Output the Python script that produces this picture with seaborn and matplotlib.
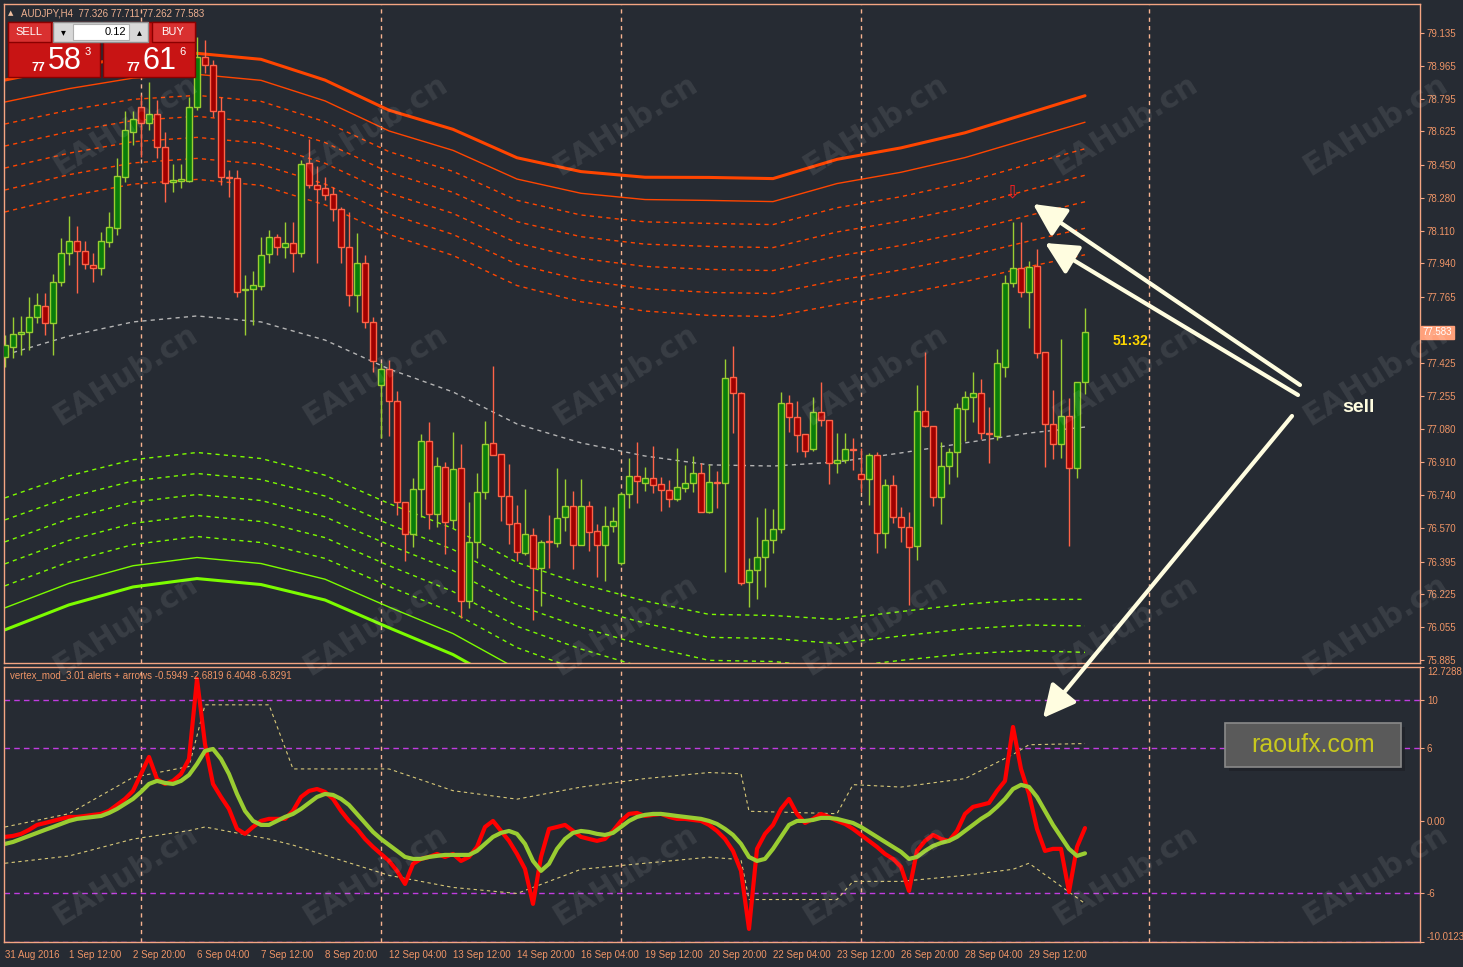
import numpy as np
import pandas as pd
import seaborn as sns
import matplotlib.pyplot as plt
import matplotlib.transforms as mtransforms
from matplotlib.patches import Rectangle, FancyArrowPatch

# AUDJPY H4 candles (31 Aug 2016 -> 30 Sep 2016)
opens = [77.456, 77.508, 77.575, 77.585, 77.663, 77.720, 77.632, 77.844, 77.994, 78.056,
         78.005, 77.932, 77.916, 78.051, 78.124, 78.389, 78.622, 78.751, 78.669, 78.715,
         78.544, 78.363, 78.368, 78.368, 78.751, 79.011, 78.969, 78.731, 78.389, 78.383,
         77.803, 77.808, 77.823, 77.989, 78.077, 78.025, 78.046, 77.994, 78.461, 78.347,
         78.332, 78.300, 78.223, 78.025, 77.777, 77.942, 77.637, 77.310, 77.393, 77.227,
         76.704, 76.538, 76.771, 77.020, 76.642, 76.885, 76.610, 76.880, 76.190, 76.496,
         76.755, 77.010, 76.952, 76.735, 76.595, 76.439, 76.533, 76.362, 76.501, 76.491,
         76.626, 76.683, 76.481, 76.683, 76.553, 76.481, 76.579, 76.387, 76.745, 76.838,
         76.803, 76.828, 76.797, 76.766, 76.719, 76.776, 76.802, 76.854, 76.652, 76.807,
         76.802, 77.352, 77.269, 76.289, 76.351, 76.418, 76.507, 76.564, 77.217, 77.144,
         77.056, 76.979, 77.170, 77.129, 76.906, 76.921, 76.979, 76.849, 76.823, 76.947,
         76.543, 76.792, 76.626, 76.574, 76.476, 77.176, 77.098, 76.729, 76.890, 76.963,
         77.186, 77.248, 77.269, 77.061, 77.046, 77.404, 77.839, 77.916, 77.792, 77.927,
         77.481, 77.108, 77.004, 77.149, 76.880, 77.326]
highs = [77.569, 77.663, 77.668, 77.766, 77.787, 77.787, 77.886, 78.072, 78.186, 78.134,
         78.056, 77.994, 78.103, 78.207, 78.487, 78.731, 78.731, 78.814, 78.881, 78.788,
         78.622, 78.456, 78.456, 78.803, 79.114, 79.099, 78.995, 78.803, 78.425, 78.425,
         77.880, 77.901, 78.077, 78.114, 78.093, 78.155, 78.155, 78.477, 78.585, 78.446,
         78.389, 78.337, 78.233, 78.207, 78.098, 77.984, 77.663, 77.424, 77.440, 77.279,
         76.704, 76.828, 77.056, 77.118, 76.937, 76.911, 77.066, 77.004, 76.704, 76.854,
         77.123, 77.409, 76.952, 76.901, 76.688, 76.771, 76.569, 76.507, 76.636, 76.880,
         76.823, 76.761, 76.823, 76.709, 76.590, 76.683, 76.678, 76.756, 76.932, 77.015,
         76.885, 76.994, 76.833, 76.818, 76.983, 76.895, 76.942, 76.906, 76.901, 76.864,
         77.445, 77.512, 77.274, 76.413, 76.626, 76.673, 76.667, 77.274, 77.258, 77.227,
         77.056, 77.248, 77.326, 77.129, 77.061, 77.061, 77.035, 76.983, 76.958, 76.963,
         76.823, 76.844, 76.678, 76.652, 77.310, 77.481, 77.098, 77.015, 76.983, 77.217,
         77.279, 77.378, 77.341, 77.196, 77.497, 77.880, 78.155, 78.155, 77.953, 78.015,
         77.481, 77.284, 77.548, 77.243, 77.326, 77.711]
lows = [77.404, 77.451, 77.466, 77.492, 77.632, 77.569, 77.466, 77.823, 77.932, 77.787,
        77.911, 77.844, 77.880, 78.025, 78.088, 78.363, 78.554, 78.492, 78.632, 78.487,
        78.259, 78.311, 78.332, 78.363, 78.736, 78.928, 78.700, 78.347, 78.285, 77.766,
        77.569, 77.621, 77.803, 77.942, 77.984, 77.968, 77.896, 77.973, 78.332, 77.942,
        78.269, 78.160, 77.942, 77.720, 77.689, 77.606, 77.378, 77.036, 77.046, 76.636,
        76.398, 76.470, 76.626, 76.564, 76.574, 76.434, 76.569, 76.102, 76.154, 76.413,
        76.719, 76.947, 76.605, 76.486, 76.398, 76.429, 76.092, 76.165, 76.362, 76.470,
        76.553, 76.357, 76.481, 76.450, 76.315, 76.294, 76.548, 76.377, 76.673, 76.698,
        76.761, 76.750, 76.657, 76.678, 76.709, 76.756, 76.756, 76.652, 76.647, 76.673,
        76.341, 77.061, 76.274, 76.159, 76.201, 76.263, 76.439, 76.543, 77.067, 76.963,
        76.937, 76.968, 77.097, 76.797, 76.854, 76.906, 76.870, 76.756, 76.688, 76.440,
        76.465, 76.595, 76.496, 76.170, 76.403, 77.093, 76.683, 76.590, 76.797, 76.833,
        77.020, 77.118, 77.030, 76.906, 77.025, 77.352, 77.818, 77.766, 77.606, 77.451,
        76.885, 76.926, 76.932, 76.476, 76.828, 77.262]
closes = [77.518, 77.575, 77.585, 77.663, 77.725, 77.632, 77.844, 77.994, 78.056, 78.005,
          77.937, 77.916, 78.056, 78.129, 78.394, 78.632, 78.689, 78.669, 78.715, 78.544,
          78.357, 78.373, 78.378, 78.751, 79.011, 78.969, 78.731, 78.389, 78.383, 77.792,
          77.808, 77.829, 77.984, 78.077, 78.025, 78.046, 77.994, 78.456, 78.347, 78.326,
          78.295, 78.223, 78.025, 77.777, 77.942, 77.637, 77.435, 77.393, 77.227, 76.704,
          76.538, 76.771, 77.020, 76.642, 76.890, 76.600, 76.875, 76.190, 76.496, 76.755,
          77.004, 76.947, 76.735, 76.590, 76.444, 76.538, 76.362, 76.496, 76.496, 76.621,
          76.683, 76.481, 76.683, 76.548, 76.481, 76.579, 76.605, 76.745, 76.838, 76.813,
          76.828, 76.792, 76.766, 76.719, 76.782, 76.802, 76.854, 76.652, 76.807, 76.802,
          77.347, 77.269, 76.284, 76.351, 76.418, 76.507, 76.564, 77.217, 77.144, 77.051,
          76.968, 77.170, 77.129, 76.906, 76.921, 76.979, 76.974, 76.823, 76.947, 76.543,
          76.792, 76.626, 76.574, 76.470, 77.176, 77.098, 76.729, 76.890, 76.963, 77.191,
          77.248, 77.269, 77.061, 77.056, 77.424, 77.839, 77.916, 77.792, 77.922, 77.476,
          77.108, 77.004, 77.149, 76.880, 77.326, 77.583]

# envelope: centre line and band step, read every 8 bars
env_bars = [0, 8, 16, 24, 32, 40, 48, 56, 64, 72, 80, 88, 96, 104, 112, 120, 128, 135]
env_mid = [77.466, 77.564, 77.637, 77.668, 77.637, 77.543, 77.393, 77.274, 77.108,
           77.010, 76.942, 76.896, 76.890, 76.911, 76.958, 77.010, 77.061, 77.092]
env_step = [0.1140, 0.1115, 0.1099, 0.1089, 0.1089, 0.1078, 0.1073, 0.1089, 0.1104,
            0.1125, 0.1156, 0.1192, 0.1192, 0.1255, 0.1265, 0.1286, 0.1327, 0.1374]
env_mult = [6.5, 7.5, 8.5, 9.5, 10.5, 11.5, 12.5]

# vertex_mod indicator
vertex = [-1.32, -1.24, -1.07, -0.74, -0.33, -0.17, 0.0, 0.17, 0.33, 0.33,
          0.41, 0.50, 0.58, 0.83, 1.32, 1.82, 2.48, 3.88, 5.29, 3.47,
          3.06, 3.31, 3.88, 5.12, 11.74, 6.36, 3.06, 1.98, 0.99, -0.66,
          -1.07, -0.50, 0.0, 0.17, 0.17, 0.17, 0.83, 1.98, 2.48, 2.64,
          2.40, 1.82, 0.83, 0.0, -0.66, -1.49, -2.15, -2.73, -3.31, -4.13,
          -5.21, -3.55, -3.14, -2.98, -2.73, -2.98, -2.73, -3.31, -2.98, -2.15,
          -0.50, 0.0, -0.83, -1.65, -2.73, -3.97, -6.86, -2.98, -0.66, -0.50,
          -0.33, -0.83, -1.32, -1.49, -1.65, -1.49, -0.83, 0.0, 0.58, 0.66,
          0.41, 0.50, 0.58, 0.33, 0.17, 0.17, 0.08, 0.0, -0.33, -0.83,
          -1.49, -2.48, -4.13, -8.93, -2.31, -1.07, -0.33, 0.99, 1.82, 0.58,
          -0.17, 0.17, 0.58, 0.33, 0.0, -0.25, -0.66, -1.16, -1.65, -2.15,
          -2.73, -3.14, -3.80, -5.79, -2.48, -1.65, -1.16, -1.49, -1.65, -0.83,
          0.58, 1.16, 1.32, 1.49, 2.48, 3.31, 7.77, 4.30, 2.23, -0.66,
          -2.48, -2.31, -2.31, -5.87, -2.15, -0.59]
signal = [-1.90, -1.74, -1.49, -1.24, -0.99, -0.74, -0.50, -0.25, 0.0, 0.17,
          0.25, 0.33, 0.41, 0.66, 0.99, 1.40, 1.82, 2.40, 3.06, 3.31,
          3.14, 3.06, 3.31, 3.80, 4.71, 5.79, 5.95, 5.12, 3.88, 2.23,
          0.83, 0.0, -0.33, -0.33, 0.0, 0.33, 0.58, 0.99, 1.49, 1.98,
          2.23, 2.15, 1.82, 1.32, 0.58, -0.17, -0.91, -1.49, -1.98, -2.48,
          -2.98, -3.14, -3.14, -2.98, -2.89, -2.81, -2.81, -2.81, -2.81, -2.48,
          -1.90, -1.32, -0.99, -0.83, -1.07, -1.90, -3.31, -4.13, -3.55, -2.31,
          -1.49, -0.99, -0.83, -0.91, -1.07, -1.16, -0.99, -0.50, 0.0, 0.33,
          0.50, 0.58, 0.58, 0.50, 0.41, 0.33, 0.25, 0.17, 0.0, -0.25,
          -0.66, -1.16, -1.90, -2.98, -3.31, -3.14, -2.31, -1.32, -0.33, 0.0,
          0.0, 0.08, 0.25, 0.25, 0.17, 0.0, -0.17, -0.50, -0.91, -1.32,
          -1.74, -2.15, -2.56, -3.14, -2.98, -2.48, -2.07, -1.82, -1.65, -1.32,
          -0.83, -0.33, 0.17, 0.58, 1.16, 1.82, 2.64, 2.98, 2.81, 1.98,
          0.83, -0.33, -1.32, -2.31, -2.89, -2.68]
vb_bars = [0, 8, 16, 23, 25, 33, 36, 48, 56, 64, 72, 80, 88, 92, 93, 104, 106, 112, 120, 126, 128, 135]
vb_upper = [-0.5, 0.6, 3.6, 4.5, 9.6, 9.6, 4.3, 4.3, 2.5, 1.8, 2.8, 3.5, 4.0, 3.9, 0.8,
            0.6, 3.0, 2.8, 3.5, 5.5, 6.3, 6.40]
vb_lower = [-3.5, -2.9, -1.5, -0.8, -0.5, -1.5, -2.0, -4.5, -5.5, -6.0, -4.0, -3.5, -3.0,
            -3.2, -6.5, -6.5, -5.0, -5.0, -4.5, -4.0, -3.5, -6.83]
vb_levels = [10, 6, -6, -10]

x_labels = ["31 Aug 2016", "1 Sep 12:00", "2 Sep 20:00", "6 Sep 04:00", "7 Sep 12:00",
            "8 Sep 20:00", "12 Sep 04:00", "13 Sep 12:00", "14 Sep 20:00", "16 Sep 04:00",
            "19 Sep 12:00", "20 Sep 20:00", "22 Sep 04:00", "23 Sep 12:00", "26 Sep 20:00",
            "28 Sep 04:00", "29 Sep 12:00"]
price_ticks = [79.135, 78.965, 78.795, 78.625, 78.450, 78.280, 78.110, 77.940, 77.765,
               77.425, 77.255, 77.080, 76.910, 76.740, 76.570, 76.395, 76.225, 76.055, 75.885]
separators = [17, 47, 77, 107, 143]

BG = "#262b33"
FRAME = "#f4a582"
TXT = "#ee9466"
BULL_FILL, BULL_EDGE = "#0a7d0a", "#9acd32"
BEAR_FILL, BEAR_EDGE = "#a00000", "#ff6347"

sns.set_style("dark", {"axes.facecolor": BG, "figure.facecolor": BG})
plt.rcParams['font.family'] = ['Liberation Sans', 'DejaVu Sans']

W, H = 1463, 967
fig = plt.figure(figsize=(W / 100, H / 100), dpi=100)
fig.patch.set_facecolor(BG)
ax = fig.add_axes([4 / W, 1 - 663 / H, 1416 / W, 659 / H])
ax2 = fig.add_axes([4 / W, 1 - 942 / H, 1416 / W, 275 / H])

df = pd.DataFrame({"o": opens, "h": highs, "l": lows, "c": closes})
df["bar"] = np.arange(len(df))
up = df[df.c >= df.o]
dn = df[df.c < df.o]

# envelope bands
env = pd.DataFrame({"bar": env_bars, "mid": env_mid, "step": env_step})
sns.lineplot(data=env, x="bar", y="mid", ax=ax, color="#b4b4b4", lw=1,
             linestyle=(0, (3, 3)), zorder=1)
for k, m in enumerate(env_mult):
    hi = env.mid + m * env.step
    lo = env.mid - m * env.step
    if k < 5:
        ls, lw = (0, (3, 3)), 1
    elif k == 5:
        ls, lw = "-", 1
    else:
        ls, lw = "-", 2.2
    sns.lineplot(x=env.bar, y=hi, ax=ax, color="#ff4500", lw=lw, linestyle=ls, zorder=1)
    sns.lineplot(x=env.bar, y=lo, ax=ax, color="#7cfc00", lw=lw, linestyle=ls, zorder=1)

# candles
ax.vlines(up.bar, up.l, up.h, color=BULL_EDGE, lw=1, zorder=2)
ax.vlines(dn.bar, dn.l, dn.h, color=BEAR_EDGE, lw=1, zorder=2)
ax.bar(up.bar, (up.c - up.o).clip(lower=0.003), bottom=up.o, width=0.7,
       color=BULL_FILL, edgecolor=BULL_EDGE, lw=1, zorder=3)
ax.bar(dn.bar, (dn.o - dn.c).clip(lower=0.003), bottom=dn.c, width=0.7,
       color=BEAR_FILL, edgecolor=BEAR_EDGE, lw=1, zorder=3)

# lower panel indicator
ind = pd.DataFrame({"bar": np.arange(len(vertex)), "vertex": vertex, "signal": signal})
vb = pd.DataFrame({"bar": vb_bars, "up": vb_upper, "lo": vb_lower})
for lv in vb_levels:
    ax2.axhline(lv, color="#c03ce0", lw=1, linestyle=(0, (4, 3)), zorder=1)
sns.lineplot(data=vb, x="bar", y="up", ax=ax2, color="#d8c878", lw=0.8, linestyle=(0, (3, 3)))
sns.lineplot(data=vb, x="bar", y="lo", ax=ax2, color="#d8c878", lw=0.8, linestyle=(0, (3, 3)))
sns.lineplot(data=ind, x="bar", y="vertex", ax=ax2, color="#ff0000", lw=3)
sns.lineplot(data=ind, x="bar", y="signal", ax=ax2, color="#9acd32", lw=3)

for a in (ax, ax2):
    a.set_facecolor(BG)
    a.set_xlim(-0.125, 176.875)
    for s in a.spines.values():
        s.set_color(FRAME)
        s.set_linewidth(1)
    for sep in separators:
        a.axvline(sep, color="#f8b490", lw=1, linestyle=(0, (3, 3)), zorder=0.5)
    a.set_xlabel("")
    a.set_ylabel("")
    a.yaxis.tick_right()
    a.tick_params(axis="y", direction="out", length=3, color=FRAME, labelcolor=TXT,
                  labelsize=7, pad=2)
    a.grid(False)

ax.set_ylim(75.869, 79.285)
ax.set_yticks(price_ticks)
ax.set_yticklabels([f"{t:.3f}" for t in price_ticks])
ax.set_xticks([])

ax2.set_ylim(-10.0123, 12.7288)
ax2.set_yticks([12.7288, 10, 6, 0, -6, -10.0123])
ax2.set_yticklabels(["12.7288", "10", "6", "0.00", "-6", "-10.0123"])
ylabs = ax2.get_yticklabels()
ylabs[0].set_va("top")
ylabs[-1].set_va("bottom")
ax2.set_xticks(np.arange(0, 129, 8))
ax2.set_xticklabels(x_labels, ha="left")
ax2.tick_params(axis="x", direction="out", length=4, color=FRAME, labelcolor=TXT,
                labelsize=7, pad=2)

# current price tag, timer, signal arrow
trans = mtransforms.blended_transform_factory(ax.transAxes, ax.transData)
ax.text(1.002, closes[-1], f"{closes[-1]:.3f}", transform=trans, va="center", ha="left",
        fontsize=7, color="white",
        bbox=dict(boxstyle="square,pad=0.15", fc="#ffa07a", ec="#ffa07a"))
ax.text(140.7, 77.538, "51:32", color="#ffd700", fontsize=10, fontweight="bold",
        ha="center", va="center")
ax.text(125.9, 78.31, "\u21e9", color="#ff2020", fontsize=13, ha="center", va="center",
        family=["DejaVu Sans"])


def fx(px):
    return px / W


def fy(py):
    return 1 - py / H


def frect(x0, y0, x1, y1, z=20, **kw):
    fig.add_artist(Rectangle((fx(x0), fy(y1)), (x1 - x0) / W, (y1 - y0) / H,
                             transform=fig.transFigure, zorder=z, **kw))


# watermarks
for wx in range(125, 1463, 250):
    for wy in range(125, 967, 250):
        fig.text(fx(wx), fy(wy), "EAHub.cn", rotation=32, fontsize=22, fontweight="bold",
                 color="white", alpha=0.09, ha="center", va="center",
                 family=["DejaVu Sans"], zorder=5)

# header texts
fig.text(fx(8), fy(13), "\u25b2", fontsize=5, color="#f0c0a0", va="center", family=["DejaVu Sans"])
fig.text(fx(21), fy(13), "AUDJPY,H4  77.326 77.711 77.262 77.583", fontsize=7, color="#eeb090",
         va="center")
fig.text(fx(10), fy(675), "vertex_mod_3.01 alerts + arrows -0.5949 -2.6819 6.4048 -6.8291",
         fontsize=7, color="#ee9466", va="center")

# one-click trading panel
frect(8, 22, 100, 77, fc="#c81414", ec="#8a0000", lw=1)
frect(103, 22, 195, 77, fc="#c81414", ec="#8a0000", lw=1)
frect(8, 22, 51, 42, fc="#d93030", ec="#8a0000", lw=1)
frect(152, 22, 195, 42, fc="#d93030", ec="#8a0000", lw=1)
frect(53, 22, 148, 42, fc="#d8d8d8", ec="#909090", lw=1)
frect(73, 24, 129, 40, fc="white", ec="#b0b0b0", lw=0.8)
fig.text(fx(29), fy(32), "SELL", fontsize=8, color="white", ha="center", va="center", zorder=21)
fig.text(fx(173), fy(32), "BUY", fontsize=8, color="white", ha="center", va="center", zorder=21)
fig.text(fx(126), fy(32), "0.12", fontsize=8, color="black", ha="right", va="center", zorder=21)
fig.text(fx(63), fy(32), "\u25be", fontsize=7, color="black", ha="center", va="center",
         family=["DejaVu Sans"], zorder=21)
fig.text(fx(139), fy(32), "\u25b4", fontsize=7, color="black", ha="center", va="center",
         family=["DejaVu Sans"], zorder=21)
for bx, big, sup in ((8, "58", "3"), (103, "61", "6")):
    fig.text(fx(bx + 30), fy(68), "77", fontsize=9, color="white", ha="center", va="center",
             fontweight="bold", zorder=21)
    fig.text(fx(bx + 57), fy(61), big, fontsize=22, color="white", ha="center", va="center",
             zorder=21)
    fig.text(fx(bx + 80), fy(52), sup, fontsize=8, color="white", ha="center", va="center",
             zorder=21)

# annotations
cream = "#fffde0"
for (x0, y0), (x1, y1) in (((1300, 385), (1033, 204)), ((1298, 395), (1045, 243)),
                           ((1292, 416), (1043, 718))):
    fig.add_artist(FancyArrowPatch((fx(x0), fy(y0)), (fx(x1), fy(y1)),
                                   transform=fig.transFigure, zorder=22,
                                   arrowstyle="-|>,head_length=0.9,head_width=0.45", lw=3,
                                   color=cream, mutation_scale=22, shrinkA=0, shrinkB=0))
fig.text(fx(1358), fy(407), "sell", fontsize=14, fontweight="bold", color=cream,
         ha="center", va="center", zorder=21)
frect(1229, 727, 1405, 771, z=20, fc="#1c1f24", ec="none", alpha=0.6)
frect(1225, 723, 1401, 767, z=21, fc="#5a5a5a", ec="#8a8a8a", lw=1.2)
fig.text(fx(1313), fy(745), "raoufx.com", fontsize=18, color="#c8c81e", ha="center",
         va="center", zorder=22)

fig.savefig("out.png", dpi=100, facecolor=BG)
